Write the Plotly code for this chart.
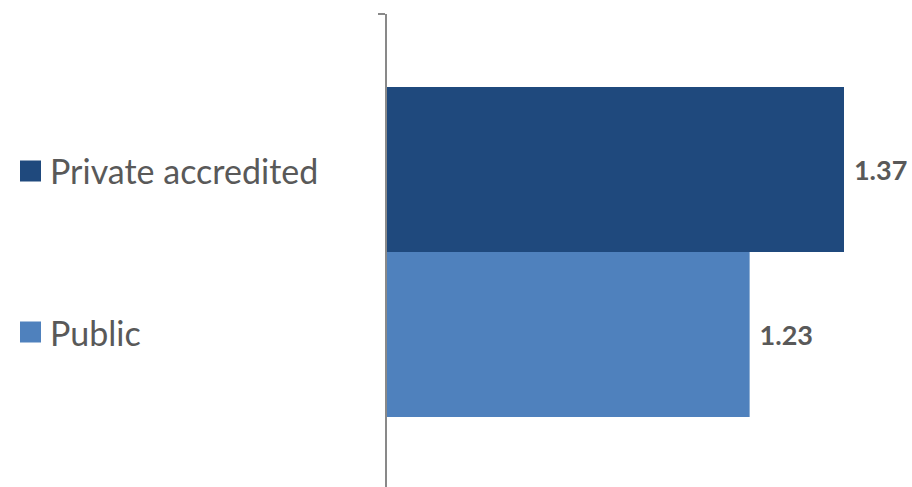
import plotly.graph_objects as go

# Data
series_names = ["Public", "Private accredited"]
series_values = [1.23, 1.37]
series_colors = ["#4F81BD", "#1F497D"]
legend_order = ["Private accredited", "Public"]

W, H = 912, 487
FONT = "Lato"
TEXT_COLOR = "#595959"
AXIS_COLOR = "#898989"

# layout geometry (pixels)
plot_left = 387
plot_top = 14
v0 = 0.692
px_per_unit = 457 / (1.37 - v0)
x_range = [v0, v0 + (W - plot_left) / px_per_unit]
unit_px = 476
y_top = 0.5
y_bottom = y_top - (H - plot_top) / unit_px
bar_w = 165 / unit_px

fig = go.Figure()
offsets = {"Public": -bar_w, "Private accredited": 0.0}
for name, val, col in zip(series_names, series_values, series_colors):
    fig.add_trace(go.Bar(
        y=[0], x=[val], orientation="h", name=name,
        width=[bar_w], offset=[offsets[name]],
        marker=dict(color=col, line=dict(width=0)),
        text=[val], texttemplate=" <b>%{x:.2f}</b>", textposition="outside",
        textfont=dict(family=FONT, size=27, color=TEXT_COLOR),
        cliponaxis=False, showlegend=False,
    ))

# custom legend
shapes = []
annotations = []
legend_y = {"Private accredited": 171, "Public": 332}
color_of = dict(zip(series_names, series_colors))
for name in legend_order:
    cy = legend_y[name]
    shapes.append(dict(type="rect", xref="paper", yref="paper",
                       x0=20 / W, x1=41 / W, y0=1 - (cy + 10.5) / H, y1=1 - (cy - 10.5) / H,
                       fillcolor=color_of[name], line=dict(width=0)))
    annotations.append(dict(text=name, xref="paper", yref="paper", x=48 / W, y=1 - cy / H,
                            xanchor="left", yanchor="middle", showarrow=False,
                            font=dict(family=FONT, size=34, color=TEXT_COLOR)))

fig.update_layout(
    width=W, height=H,
    margin=dict(l=0, r=0, t=0, b=0),
    paper_bgcolor="white", plot_bgcolor="white",
    barmode="overlay",
    xaxis=dict(domain=[plot_left / W, 1], range=x_range, visible=False),
    yaxis=dict(domain=[0, (H - plot_top) / H], range=[y_bottom, y_top],
               showline=True, linecolor=AXIS_COLOR, linewidth=2,
               ticks="outside", tickvals=[0.5], ticklen=7, tickwidth=2, tickcolor=AXIS_COLOR,
               showticklabels=False, showgrid=False, zeroline=False),
    shapes=shapes, annotations=annotations,
)

fig.write_html("out.html")
